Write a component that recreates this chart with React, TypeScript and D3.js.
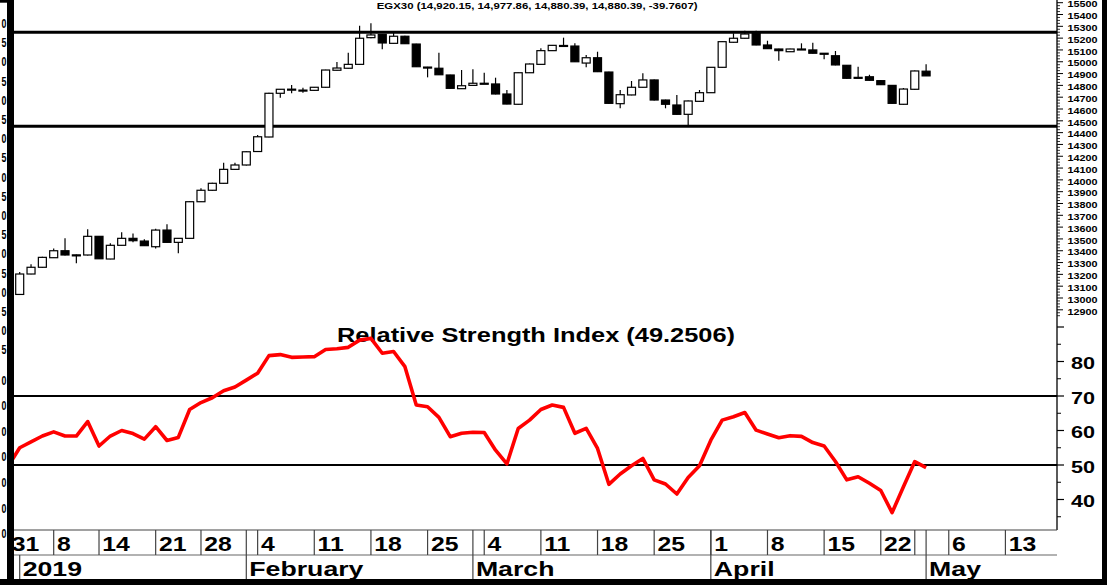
import React from 'react';
import * as d3 from 'd3';

const W = 1115, H = 587;

// daily EGX30 candles, index 0 = 31 Dec 2018
const opens = [13030, 13203, 13260, 13341, 13400, 13365, 13364, 13522, 13330, 13446, 13505, 13482, 13434, 13575, 13471, 13505, 13815, 13912, 13971, 14089, 14126, 14240, 14363, 14733, 14765, 14758, 14758, 14784, 14928, 14945, 14978, 15204, 15232, 15156, 15216, 15150, 14955, 14945, 14888, 14772, 14800, 14818, 14812, 14727, 14640, 14907, 14978, 15094, 15136, 15133, 14989, 15034, 14913, 14645, 14719, 14784, 14846, 14676, 14634, 14555, 14665, 14738, 14953, 15165, 15199, 15241, 15142, 15108, 15085, 15108, 15100, 15072, 15051, 14970, 14868, 14873, 14840, 14800, 14640, 14767, 14920.15];
const highs = [13220, 13285, 13350, 13420, 13505, 13368, 13581, 13525, 13463, 13556, 13547, 13497, 13586, 13624, 13508, 13818, 13929, 13975, 14145, 14145, 14242, 14380, 14737, 14770, 14803, 14780, 14787, 14933, 14998, 15077, 15305, 15326, 15235, 15254, 15220, 15153, 14957, 15077, 14890, 14930, 14936, 14907, 14865, 14761, 14910, 14985, 15114, 15142, 15204, 15156, 15057, 15085, 14916, 14761, 14837, 14902, 14849, 14679, 14719, 14671, 14761, 14956, 15173, 15241, 15263, 15263, 15178, 15111, 15111, 15156, 15161, 15075, 15091, 14973, 14958, 14890, 14843, 14803, 14778, 14925, 14977.86];
const lows = [13030, 13200, 13255, 13338, 13360, 13294, 13360, 13330, 13328, 13444, 13471, 13440, 13420, 13468, 13378, 13502, 13812, 13908, 13968, 14086, 14122, 14238, 14360, 14696, 14733, 14738, 14755, 14780, 14925, 14942, 14975, 15200, 15105, 15153, 15150, 14955, 14868, 14887, 14772, 14770, 14797, 14812, 14724, 14640, 14638, 14905, 14976, 15092, 15133, 14998, 14953, 14913, 14645, 14606, 14716, 14781, 14673, 14606, 14552, 14464, 14662, 14735, 14950, 15162, 15196, 15139, 15108, 15009, 15082, 15103, 15069, 15021, 14970, 14857, 14862, 14840, 14803, 14645, 14637, 14764, 14880.39];
const closes = [13203, 13260, 13344, 13400, 13364, 13362, 13522, 13332, 13446, 13505, 13485, 13443, 13575, 13471, 13505, 13815, 13912, 13971, 14089, 14126, 14238, 14365, 14733, 14767, 14768, 14760, 14784, 14930, 14947, 14978, 15199, 15227, 15159, 15216, 15153, 14958, 14953, 14890, 14775, 14797, 14818, 14816, 14727, 14642, 14907, 14981, 15094, 15139, 15138, 15000, 15034, 14916, 14648, 14721, 14784, 14846, 14676, 14640, 14555, 14668, 14738, 14953, 15170, 15199, 15235, 15142, 15111, 15094, 15108, 15106, 15072, 15070, 14973, 14860, 14866, 14843, 14806, 14648, 14769, 14922, 14880.39];

// RSI, first value belongs to the day before index 0
const rsiStart = -1;
const rsi = [49.8, 55.0, 56.7, 58.4, 59.6, 58.4, 58.4, 62.6, 55.5, 58.4, 60.0, 59.1, 57.5, 61.1, 57.1, 58.0, 66.1, 68.1, 69.5, 71.5, 72.6, 74.6, 76.6, 81.7, 82.0, 81.2, 81.3, 81.4, 83.5, 83.7, 84.1, 86.2, 86.7, 82.4, 82.9, 78.5, 67.4, 66.9, 63.8, 58.2, 59.2, 59.5, 59.4, 54.3, 50.3, 60.6, 63.0, 66.1, 67.4, 66.7, 59.2, 60.6, 54.8, 44.4, 47.4, 49.8, 51.9, 45.7, 44.5, 41.6, 46.4, 49.8, 57.2, 63.0, 64.0, 65.2, 60.1, 59.0, 57.9, 58.5, 58.3, 56.5, 55.5, 51.0, 45.7, 46.6, 44.7, 42.6, 36.2, 43.7, 51.0, 49.25];

const priceLevels = [15250, 14455];
const rsiLevels = [70, 50];
const rsiLabels = [40, 50, 60, 70, 80];

// week separators (day index of the week's first session) and their labels
const weekIdx = [-1, 3, 7, 12, 16, 21, 26, 31, 36, 41, 46, 51, 56, 61, 66, 71, 76, 79, 82, 87];
const weekLabels = ['31', '8', '14', '21', '28', '4', '11', '18', '25', '4', '11', '18', '25', '1', '8', '15', '22', '', '6', '13'];
const monthIdx = [0, 20, 40, 61, 80];
const monthLabels = ['2019', 'February', 'March', 'April', 'May'];

// cut-off labels of a neighbouring axis at the far left
const ghostTop = ['0', '5', '0', '5', '0', '5', '0', '5', '0', '5', '0', '5', '0', '5', '0', '5', '0', '5'];
const ghostLow = ['0', '0', '0', '0', '0', '0', '0'];

const title = 'EGX30 (14,920.15, 14,977.86, 14,880.39, 14,880.39, -39.7607)';
const rsiTitle = 'Relative Strength Index (49.2506)';

const FONT = '"Liberation Sans", Arial, sans-serif';
const SX = 1.27;

function T({ x, y, size, children, anchor = 'start', sx = SX }: any) {
  return (
    <text transform={`translate(${x},${y}) scale(${sx},1)`} fontFamily={FONT} fontWeight="bold"
      fontSize={size} textAnchor={anchor} fill="#000">{children}</text>
  );
}

export default function App() {
  const L = 14, R = 1057;
  const x = d3.scaleLinear().domain([0, 80]).range([19.7, 926.1]);
  const yP = d3.scaleLinear().domain([12900, 15500]).range([309.8, 2.7]);
  const yR = d3.scaleLinear().domain([30, 90]).range([534, 327]);
  const dateTop = 530, dateMid = 555, dateBot = 580;
  const bw = 8;

  const priceMajor = d3.range(12900, 15501, 100);
  const priceMinor = d3.range(12850, 15600, 25).filter(v => v % 100 !== 0 && yP(v) > 0 && yP(v) < 318);
  const rsiMajor = d3.range(40, 91, 10);
  const rsiMinor = d3.range(35, 90, 10);

  const line = d3.line<number>().x((_, i) => x(i + rsiStart)).y(d => yR(d));
  const ghost = d3.scaleLinear().domain([0, ghostTop.length - 1]).range([23.3, 349.7]);
  const ghost2 = d3.scaleLinear().domain([0, ghostLow.length - 1]).range([380, 533.5]);

  return (
    <svg width={W} height={H} style={{ position: 'absolute', left: 0, top: 0, background: '#fff' }}>
      <defs>
        <clipPath id="rsiClip"><rect x={L} y={318} width={R - L} height={dateTop - 318} /></clipPath>
        <clipPath id="dateClip"><rect x={L} y={dateTop} width={R - L} height={dateBot - dateTop} /></clipPath>
      </defs>
      <rect width={W} height={H} fill="#fff" />

      {/* narrow leftover glyphs on the far left */}
      {ghostTop.map((t, i) => <T key={'g' + i} x={6.5} y={ghost(i) + 4.6} size={13} anchor="end" sx={0.68}>{t}</T>)}
      {ghostLow.map((t, i) => <T key={'h' + i} x={6.5} y={ghost2(i) + 4.6} size={13} anchor="end" sx={0.68}>{t}</T>)}

      <T x={376.7} y={9} size={9}>{title}</T>

      {/* support / resistance */}
      {priceLevels.map(v => <line key={v} x1={L} x2={R} y1={yP(v)} y2={yP(v)} stroke="#000" strokeWidth={3} />)}

      {/* candles */}
      {opens.map((o, i) => {
        const c = closes[i];
        const up = c >= o;
        const top = yP(Math.max(o, c)), bot = yP(Math.min(o, c));
        return (
          <g key={i}>
            <line x1={x(i)} x2={x(i)} y1={yP(highs[i])} y2={yP(lows[i])} stroke="#000" strokeWidth={1.2} />
            <rect x={x(i) - bw / 2} y={top} width={bw} height={Math.max(bot - top, 1)}
              fill={up ? '#fff' : '#000'} stroke="#000" strokeWidth={1.2} />
          </g>
        );
      })}

      {/* price axis */}
      <line x1={R} x2={R} y1={0} y2={dateTop} stroke="#000" strokeWidth={1.3} />
      {priceMajor.map(v => (
        <g key={v}>
          <line x1={R} x2={R + 6} y1={yP(v)} y2={yP(v)} stroke="#000" strokeWidth={1} />
          <T x={1067.5} y={yP(v) + 4.7} size={8.5}>{v}</T>
        </g>
      ))}
      {priceMinor.map(v => <line key={v} x1={R} x2={R + 3} y1={yP(v)} y2={yP(v)} stroke="#000" strokeWidth={0.8} />)}

      {/* RSI panel */}
      <T x={337} y={342} size={20}>{rsiTitle}</T>
      {rsiLevels.map(v => <line key={v} x1={L} x2={R} y1={yR(v)} y2={yR(v)} stroke="#000" strokeWidth={2} />)}
      {rsiMajor.map(v => <line key={v} x1={R} x2={R + 7} y1={yR(v)} y2={yR(v)} stroke="#000" strokeWidth={1.2} />)}
      {rsiMinor.map(v => <line key={v} x1={R} x2={R + 4} y1={yR(v)} y2={yR(v)} stroke="#000" strokeWidth={1} />)}
      {rsiLabels.map(v => <T key={v} x={1071} y={yR(v) + 7.7} size={17}>{v}</T>)}
      <path d={line(rsi) || ''} fill="none" stroke="#ff0000" strokeWidth={3.6} strokeLinejoin="round" clipPath="url(#rsiClip)" />

      {/* date axis */}
      <line x1={L} x2={R} y1={dateTop} y2={dateTop} stroke="#444" strokeWidth={1.2} />
      <line x1={L} x2={R} y1={dateMid} y2={dateMid} stroke="#666" strokeWidth={1.2} />
      <g clipPath="url(#dateClip)">
        {weekIdx.map((d, i) => (
          <g key={'w' + i}>
            <line x1={x(d)} x2={x(d)} y1={dateTop} y2={dateMid} stroke="#444" strokeWidth={1.2} />
            <T x={x(d) + 3.3} y={550.7} size={19.5}>{weekLabels[i]}</T>
          </g>
        ))}
        {monthIdx.map((d, i) => (
          <g key={'m' + i}>
            <line x1={x(d)} x2={x(d)} y1={i === 0 ? dateMid : dateTop} y2={dateBot} stroke="#444" strokeWidth={1.2} />
            <T x={x(d) + 3} y={575.5} size={21}>{monthLabels[i]}</T>
          </g>
        ))}
      </g>

      {/* heavy frame */}
      <rect x={0} y={0} width={13} height={2.7} fill="#000" />
      <rect x={7} y={0} width={7} height={585} fill="#000" />
      <rect x={1102} y={0} width={5} height={585} fill="#000" />
      <rect x={0} y={579} width={1107} height={6} fill="#000" />
    </svg>
  );
}
